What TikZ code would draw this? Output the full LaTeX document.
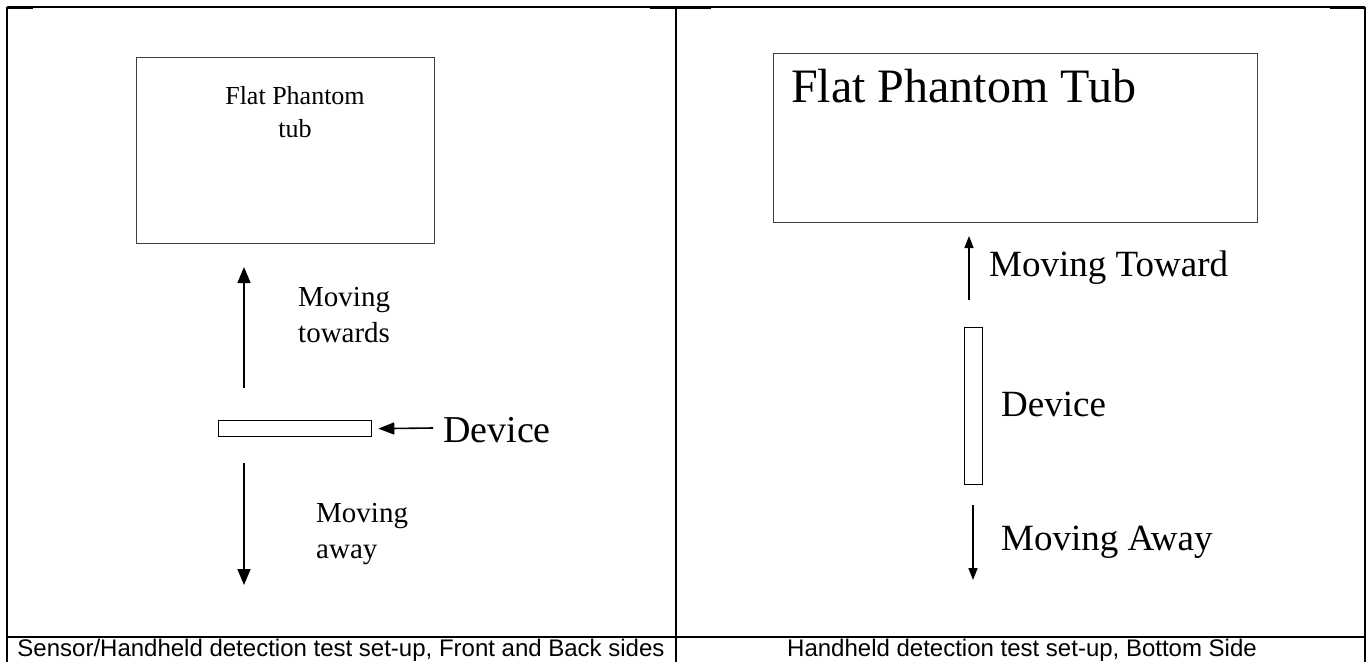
\documentclass[tikz,border=0pt]{standalone}
\usepackage{fontspec}
\setmainfont{Liberation Serif}
\newfontfamily\capfont{Liberation Sans}
\usetikzlibrary{arrows.meta}
\begin{document}
\begin{tikzpicture}[x=1pt,y=-1pt,
  frame/.style={line width=2pt, black},
  thinframe/.style={line width=1.4pt, black},
  tubbox/.style={draw=black!75, line width=1.4pt, inner sep=0pt, anchor=north west},
  devbox/.style={draw=black, line width=1.3pt, inner sep=0pt, anchor=north west},
  bigarrow/.style={line width=1.6pt, -{Triangle[width=13pt,length=16pt]}},
  smallarrow/.style={line width=1.6pt, -{Triangle[width=9pt,length=12pt]}},
  lbl/.style={inner sep=0pt, anchor=west, align=left},
  captxt/.style={font=\capfont\fontsize{24}{26}\selectfont, inner sep=0pt}
]
\useasboundingbox (0,0) rectangle (1370,662);
% table frame
\draw[thinframe] (7,7) -- (1365,7);
\draw[frame, line width=3pt] (7,7.5) -- (33,7.5);
\draw[frame, line width=3pt] (650,7.5) -- (711,7.5);
\draw[frame, line width=3pt] (1330,7.5) -- (1365,7.5);
\draw[frame] (7,7) -- (7,662);
\draw[frame] (676,7) -- (676,662);
\draw[frame] (1365,7) -- (1365,662);
\draw[thinframe] (7,637) -- (1365,637);
\draw[frame, line width=2.6pt] (640,637) -- (710,637);
\draw[frame, line width=2.6pt] (1335,637) -- (1365,637);
% captions
\node[captxt] (capL) at (341,650) {Sensor/Handheld detection test set-up, Front and Back sides};
\node[captxt] (capR) at (1022,650) {Handheld detection test set-up, Bottom Side};

% ---------- left panel ----------
\node[tubbox, minimum width=298pt, minimum height=186pt] (tubL) at (136,57) {};
\node[font=\fontsize{26}{33}\selectfont, align=center, inner sep=0pt] (tubLtxt) at (295,112) {Flat Phantom\\tub};
\coordinate (upLs) at (244,388);
\coordinate (upLe) at (244,267);
\draw[bigarrow] (upLs) -- (upLe);
\node[lbl, font=\fontsize{29}{36}\selectfont] (towL) at (298,315) {Moving\\towards};
\node[devbox, minimum width=153pt, minimum height=16pt] (devL) at (218,420) {};
\node[lbl, font=\fontsize{38}{40}\selectfont] (devLtxt) at (443,430) {Device};
\coordinate (devAs) at (433,428);
\draw[line width=1.6pt, -{Triangle[width=12pt,length=16pt]}] (devAs) -- ([xshift=6pt]devL.east);
\coordinate (dnLs) at (244,463);
\coordinate (dnLe) at (244,585);
\draw[bigarrow] (dnLs) -- (dnLe);
\node[lbl, font=\fontsize{29}{36}\selectfont] (awayL) at (316,534) {Moving\\away};

% ---------- right panel ----------
\node[tubbox, minimum width=484pt, minimum height=169pt] (tubR) at (773,53) {};
\node[lbl, font=\fontsize{48}{52}\selectfont] (tubRtxt) at (791,86) {Flat Phantom Tub};
\coordinate (upRs) at (969,300);
\coordinate (upRe) at (969,236);
\draw[smallarrow] (upRs) -- (upRe);
\node[lbl, font=\fontsize{37}{40}\selectfont] (towR) at (989,268) {Moving Toward};
\node[devbox, minimum width=18pt, minimum height=157pt] (devR) at (964,327) {};
\node[lbl, font=\fontsize{37}{40}\selectfont] (devRtxt) at (1001,404) {Device};
\coordinate (dnRs) at (973,505);
\coordinate (dnRe) at (973,580);
\draw[smallarrow] (dnRs) -- (dnRe);
\node[lbl, font=\fontsize{37}{40}\selectfont] (awayR) at (1001,542) {Moving Away};
\end{tikzpicture}
\end{document}
